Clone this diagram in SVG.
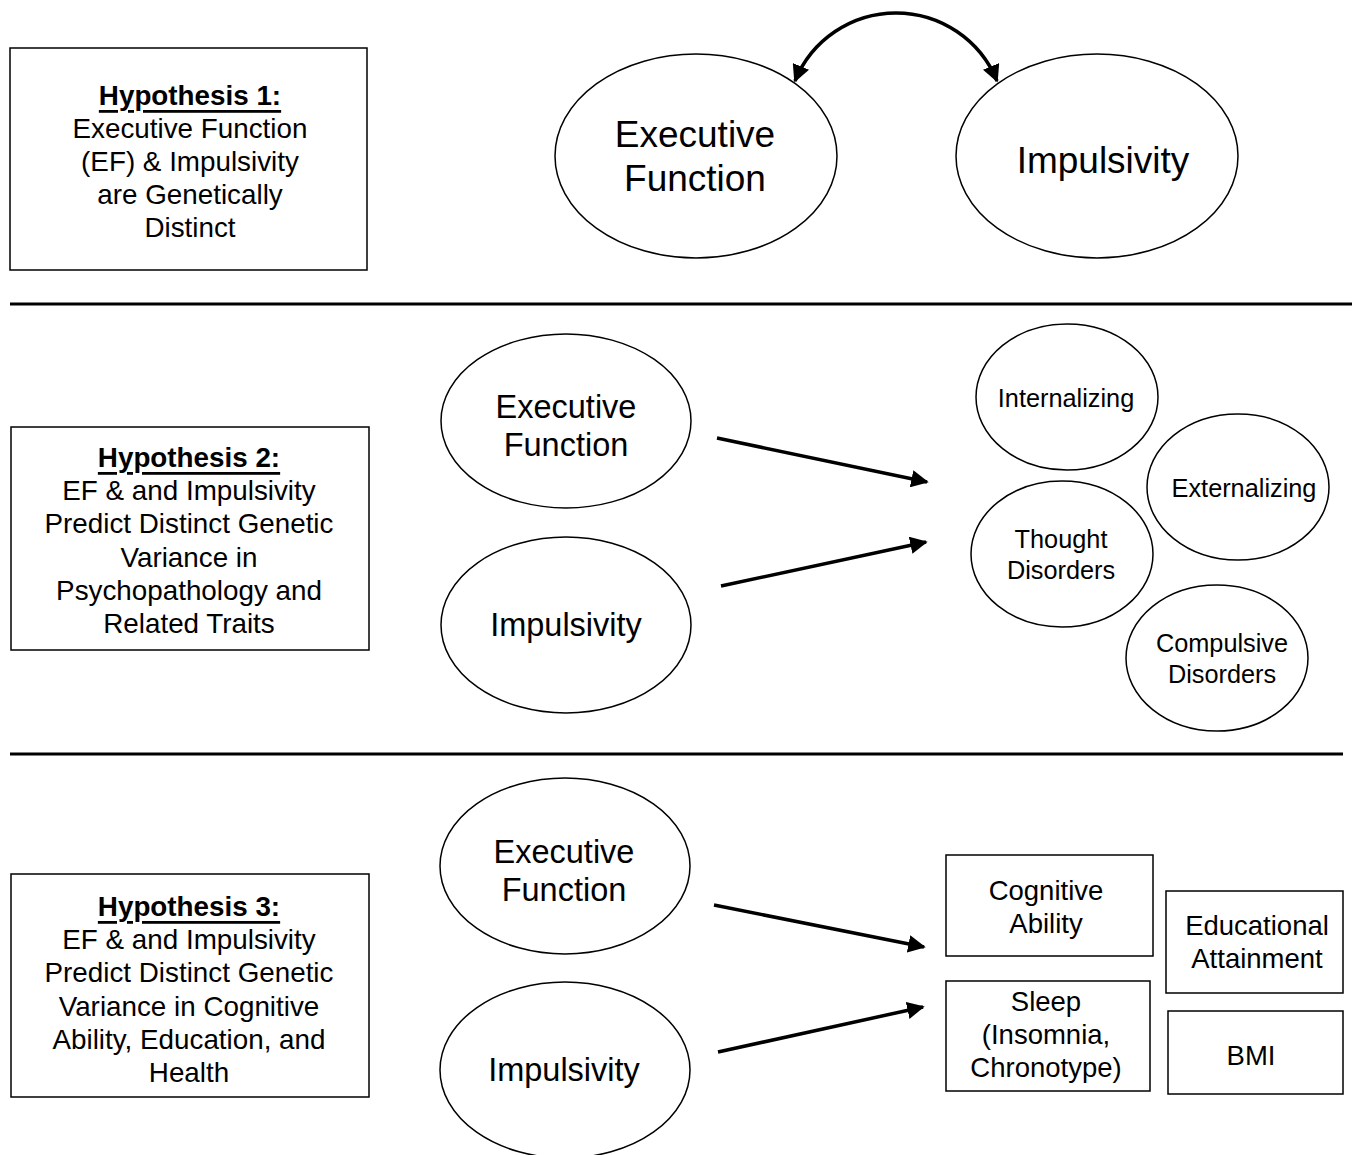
<svg xmlns="http://www.w3.org/2000/svg" width="1355" height="1155" viewBox="0 0 1355 1155">
<style>
text{font-family:"Liberation Sans",Arial,sans-serif;fill:#000;text-anchor:middle;dominant-baseline:central}
.box{fill:#fff;stroke:#000;stroke-width:1.5}
.el{fill:#fff;stroke:#000;stroke-width:1.5}
.hyp{font-size:27.8px}
.hd{font-weight:bold;text-decoration:underline}
.big{font-size:37px}
.mid{font-size:32.5px}
.sm{font-size:25.3px}
.rb{font-size:27.5px}
.conn{stroke:#000;stroke-width:3.5;fill:none}
.sep{stroke:#000;stroke-width:3}
</style>
<defs>
<marker id="ah" viewBox="0 0 10 10" refX="9" refY="5" markerWidth="5" markerHeight="5" orient="auto-start-reverse" markerUnits="strokeWidth">
<path d="M0,0 L10,5 L0,10 z" fill="#000"/>
</marker>
</defs>
<rect width="1355" height="1155" fill="#fff"/>
<g id="separators">
<line class="sep" x1="10" y1="304" x2="1352" y2="304"/>
<line class="sep" x1="10" y1="754" x2="1343" y2="754"/>
</g>
<g id="h1">
<rect class="box" x="10" y="48" width="357" height="222"/>
<text class="hyp" x="189"><tspan class="hd" x="190" y="95">Hypothesis 1:</tspan><tspan x="190" y="128">Executive Function</tspan><tspan x="190" y="161">(EF) &amp; Impulsivity</tspan><tspan x="190" y="194">are Genetically</tspan><tspan x="190" y="227">Distinct</tspan></text>
</g>
<g id="ef1">
<ellipse class="el" cx="696" cy="156" rx="141" ry="102"/>
<text class="big" x="695" y="134">Executive</text>
<text class="big" x="695" y="178">Function</text>
</g>
<g id="imp1">
<ellipse class="el" cx="1097" cy="156" rx="141" ry="102"/>
<text class="big" x="1103" y="160">Impulsivity</text>
</g>
<g id="h2">
<rect class="box" x="11" y="427" width="358" height="223"/>
<text class="hyp"><tspan class="hd" x="189" y="457">Hypothesis 2:</tspan><tspan x="189" y="490">EF &amp; and Impulsivity</tspan><tspan x="189" y="523">Predict Distinct Genetic</tspan><tspan x="189" y="557">Variance in</tspan><tspan x="189" y="590">Psychopathology and</tspan><tspan x="189" y="623">Related Traits</tspan></text>
</g>
<g id="ef2">
<ellipse class="el" cx="566" cy="421" rx="125" ry="87"/>
<text class="mid" x="566" y="407">Executive</text>
<text class="mid" x="566" y="445">Function</text>
</g>
<g id="imp2">
<ellipse class="el" cx="566" cy="625" rx="125" ry="88"/>
<text class="mid" x="566" y="625">Impulsivity</text>
</g>
<g id="internalizing">
<ellipse class="el" cx="1067" cy="397" rx="91" ry="73"/>
<text class="sm" x="1066" y="398">Internalizing</text>
</g>
<g id="externalizing">
<ellipse class="el" cx="1238" cy="487" rx="91" ry="73"/>
<text class="sm" x="1244" y="488">Externalizing</text>
</g>
<g id="thought">
<ellipse class="el" cx="1062" cy="554" rx="91" ry="73"/>
<text class="sm" x="1061" y="539">Thought</text>
<text class="sm" x="1061" y="570">Disorders</text>
</g>
<g id="compulsive">
<ellipse class="el" cx="1217" cy="658" rx="91" ry="73"/>
<text class="sm" x="1222" y="643">Compulsive</text>
<text class="sm" x="1222" y="674">Disorders</text>
</g>
<g id="h3">
<rect class="box" x="11" y="874" width="358" height="223"/>
<text class="hyp"><tspan class="hd" x="189" y="906">Hypothesis 3:</tspan><tspan x="189" y="939">EF &amp; and Impulsivity</tspan><tspan x="189" y="972">Predict Distinct Genetic</tspan><tspan x="189" y="1006">Variance in Cognitive</tspan><tspan x="189" y="1039">Ability, Education, and</tspan><tspan x="189" y="1072">Health</tspan></text>
</g>
<g id="ef3">
<ellipse class="el" cx="565" cy="866" rx="125" ry="88"/>
<text class="mid" x="564" y="852">Executive</text>
<text class="mid" x="564" y="890">Function</text>
</g>
<g id="imp3">
<ellipse class="el" cx="565" cy="1070" rx="125" ry="88"/>
<text class="mid" x="564" y="1070">Impulsivity</text>
</g>
<g id="cognitive">
<rect class="box" x="946" y="855" width="207" height="101"/>
<text class="rb" x="1046" y="890">Cognitive</text>
<text class="rb" x="1046" y="923">Ability</text>
</g>
<g id="educational">
<rect class="box" x="1166" y="891" width="177" height="102"/>
<text class="rb" x="1257" y="925">Educational</text>
<text class="rb" x="1257" y="958">Attainment</text>
</g>
<g id="sleep">
<rect class="box" x="946" y="981" width="204" height="110"/>
<text class="rb" x="1046" y="1001">Sleep</text>
<text class="rb" x="1046" y="1034">(Insomnia,</text>
<text class="rb" x="1046" y="1067">Chronotype)</text>
</g>
<g id="bmi">
<rect class="box" x="1168" y="1011" width="175" height="83"/>
<text class="rb" x="1251" y="1055">BMI</text>
</g>
<g id="connectors">
<path class="conn" d="M 795 81 A 109 109 0 0 1 997 81" marker-start="url(#ah)" marker-end="url(#ah)"/>
<line class="conn" x1="717" y1="438" x2="927" y2="482" marker-end="url(#ah)"/>
<line class="conn" x1="721" y1="586" x2="926" y2="542" marker-end="url(#ah)"/>
<line class="conn" x1="714" y1="905" x2="924" y2="947" marker-end="url(#ah)"/>
<line class="conn" x1="718" y1="1052" x2="923" y2="1007" marker-end="url(#ah)"/>
</g>
</svg>
